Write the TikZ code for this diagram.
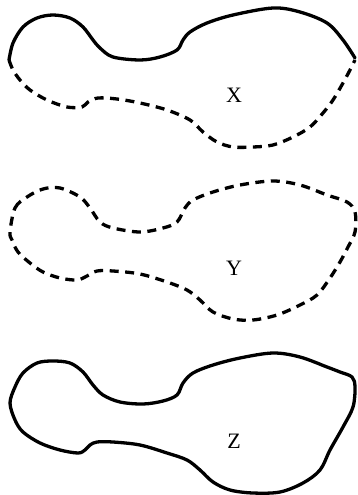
\documentclass[tikz,border=0pt]{standalone}
\usepackage{fontspec}
\setmainfont{Liberation Serif}
\begin{document}
\begin{tikzpicture}[x=1pt,y=-1pt,
  solidline/.style={line width=3.3pt, line join=round, line cap=round},
  dashline/.style={line width=3.3pt, dash pattern=on 9pt off 6.5pt},
  lab/.style={font=\fontsize{22}{22}\selectfont, inner sep=0pt}]
\useasboundingbox (0,0) rectangle (357,495);
% X
\draw[solidline] plot[smooth, tension=0.55] coordinates {(9,60)(13,43)(23,27)(37,18)(53,15)(70,18)(83,27)(93,40)(100,48)(113,57)(140,60)(160,57)(177,50)(183,40)(190,32)(207,23)(233,15)(273,8)(300,12)(327,23)(343,40)(355,58)};
\draw[dashline] plot[smooth, tension=0.55] coordinates {(9,60)(13,70)(20,80)(30,90)(47,100)(67,107)(82,107)(88,102)(98,98)(117,99)(140,103)(167,110)(190,120)(203,132)(217,142)(233,147)(253,147)(273,145)(293,137)(310,127)(323,113)(333,100)(343,83)(350,70)(355,60)};
\node[lab] (x) at (234,95) {X};
% Y
\draw[dashline] plot[smooth cycle, tension=0.55] coordinates {(10,232)(15,208)(27,197)(43,189)(60,188)(80,197)(90,208)(100,222)(113,228)(140,232)(163,228)(177,222)(185,208)(193,200)(213,192)(240,185)(273,181)(300,185)(327,195)(347,202)(355,212)(355,232)(348,247)(340,262)(330,278)(317,295)(300,305)(277,315)(253,320)(233,319)(213,312)(200,300)(187,290)(167,282)(140,274)(113,271)(97,271)(87,276)(77,280)(60,278)(43,272)(30,263)(18,252)(12,240)};
\node[lab] (y) at (234,268) {Y};
% Z
\draw[solidline] plot[smooth cycle, tension=0.55] coordinates {(10,403)(15,387)(23,373)(37,363)(53,361)(70,363)(83,372)(93,385)(103,395)(120,402)(143,404)(163,401)(177,395)(183,383)(193,373)(213,365)(240,358)(273,353)(300,357)(327,367)(340,372)(352,377)(355,387)(353,407)(343,427)(330,450)(320,470)(303,483)(280,492)(253,493)(230,490)(213,482)(200,470)(187,460)(167,453)(140,445)(113,442)(97,442)(90,445)(85,450)(78,453)(60,450)(40,443)(23,432)(15,420)};
\node[lab] (z) at (234,441) {Z};
\end{tikzpicture}
\end{document}
